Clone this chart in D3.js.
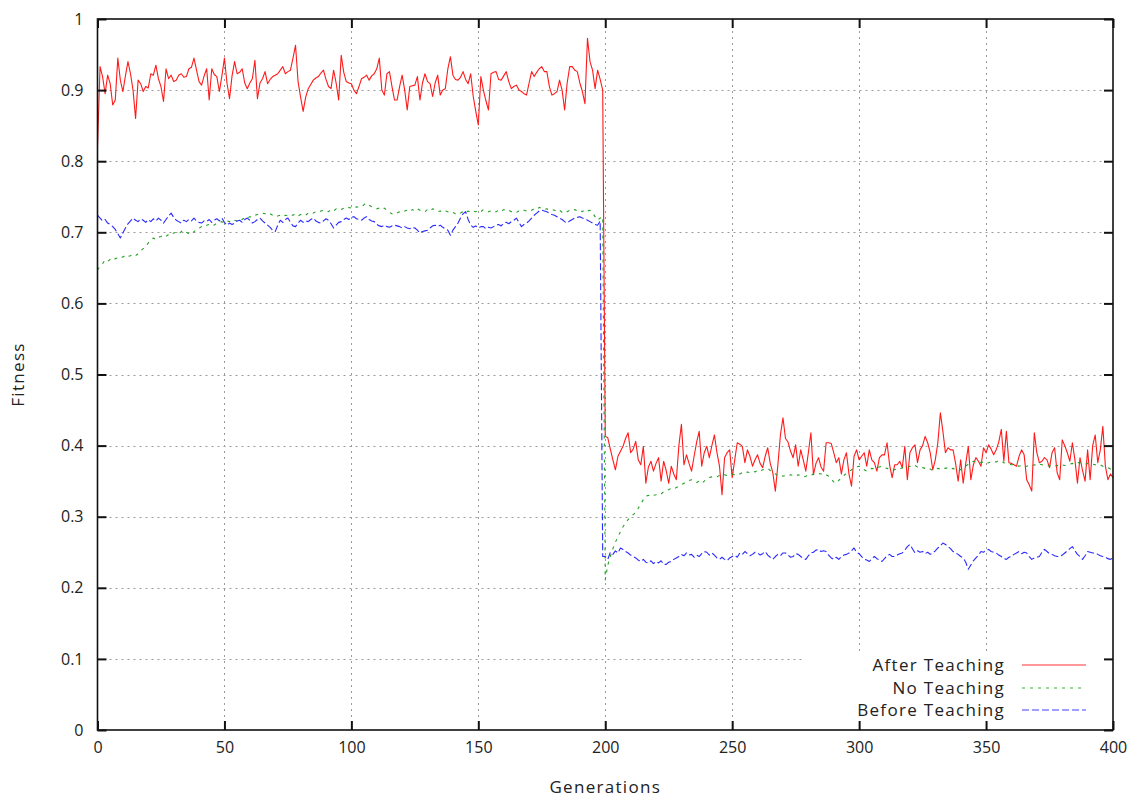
<!DOCTYPE html>
<html>
<head>
<meta charset="utf-8">
<script src="https://cdn.jsdelivr.net/npm/d3@7"></script>
<style>
  html, body { margin: 0; padding: 0; background: #fff; }
  svg { display: block; }
  text { font-family: "Open Sans", "DejaVu Sans", sans-serif; fill: #222; }
</style>
</head>
<body>
<svg id="chart" width="1140" height="801"></svg>
<script>
// ---------------- DATA ----------------
const xTicks = [0, 50, 100, 150, 200, 250, 300, 350, 400];
const yTicks = [0, 0.1, 0.2, 0.3, 0.4, 0.5, 0.6, 0.7, 0.8, 0.9, 1];
const yTickLabels = ["0", "0.1", "0.2", "0.3", "0.4", "0.5", "0.6", "0.7", "0.8", "0.9", "1"];
const seriesNames = ["After Teaching", "No Teaching", "Before Teaching"];
const xLabel = "Generations";
const yLabel = "Fitness";

const afterTeaching = [
0.82,0.933,0.919,0.895,0.921,0.909,0.879,0.886,0.945,0.914,
0.898,0.92,0.94,0.923,0.90,0.86,0.914,0.909,0.898,0.905,
0.903,0.923,0.921,0.935,0.916,0.905,0.884,0.93,0.916,0.921,
0.912,0.914,0.921,0.923,0.918,0.919,0.93,0.932,0.945,0.928,
0.912,0.907,0.92,0.93,0.886,0.93,0.922,0.919,0.898,0.92,
0.945,0.91,0.888,0.92,0.94,0.923,0.925,0.93,0.91,0.902,
0.91,0.916,0.942,0.888,0.91,0.916,0.926,0.909,0.915,0.919,
0.921,0.923,0.928,0.933,0.923,0.926,0.928,0.945,0.963,0.912,
0.89,0.87,0.89,0.902,0.908,0.914,0.917,0.919,0.924,0.928,
0.915,0.905,0.902,0.928,0.91,0.886,0.949,0.925,0.912,0.91,
0.909,0.9,0.895,0.905,0.916,0.918,0.921,0.914,0.92,0.923,
0.93,0.945,0.9,0.893,0.923,0.926,0.905,0.886,0.886,0.905,
0.921,0.9,0.872,0.905,0.906,0.907,0.919,0.886,0.91,0.923,
0.912,0.909,0.891,0.91,0.921,0.893,0.9,0.902,0.93,0.947,
0.921,0.915,0.914,0.918,0.926,0.915,0.909,0.923,0.891,0.87,
0.851,0.919,0.9,0.885,0.872,0.923,0.925,0.926,0.915,0.914,
0.92,0.926,0.912,0.902,0.905,0.907,0.9,0.898,0.895,0.893,
0.91,0.926,0.919,0.925,0.93,0.933,0.926,0.926,0.905,0.893,
0.895,0.898,0.914,0.9,0.872,0.91,0.933,0.933,0.928,0.926,
0.91,0.898,0.881,0.973,0.94,0.928,0.902,0.928,0.915,0.9,
0.413,0.411,0.395,0.38,0.366,0.385,0.392,0.399,0.41,0.418,
0.39,0.395,0.406,0.38,0.373,0.399,0.347,0.37,0.378,0.364,
0.375,0.383,0.35,0.378,0.365,0.347,0.371,0.36,0.352,0.4,
0.43,0.373,0.387,0.375,0.364,0.385,0.405,0.42,0.371,0.39,
0.399,0.383,0.4,0.415,0.39,0.371,0.331,0.383,0.39,0.394,
0.355,0.38,0.404,0.402,0.399,0.376,0.394,0.385,0.371,0.38,
0.387,0.375,0.369,0.385,0.397,0.375,0.362,0.336,0.373,0.415,
0.439,0.41,0.405,0.392,0.383,0.401,0.371,0.394,0.38,0.364,
0.39,0.418,0.359,0.375,0.383,0.37,0.364,0.404,0.404,0.403,
0.39,0.376,0.383,0.36,0.38,0.39,0.36,0.343,0.385,0.394,
0.38,0.385,0.39,0.371,0.394,0.38,0.376,0.364,0.383,0.387,
0.387,0.404,0.373,0.355,0.373,0.373,0.378,0.369,0.399,0.352,
0.39,0.397,0.401,0.376,0.394,0.4,0.413,0.404,0.39,0.366,
0.38,0.404,0.446,0.42,0.39,0.397,0.394,0.394,0.375,0.35,
0.38,0.347,0.375,0.399,0.352,0.373,0.383,0.378,0.371,0.397,
0.39,0.401,0.395,0.387,0.394,0.405,0.423,0.378,0.42,0.376,
0.375,0.373,0.371,0.385,0.394,0.387,0.352,0.345,0.336,0.418,
0.39,0.376,0.378,0.383,0.38,0.369,0.39,0.397,0.362,0.352,
0.408,0.4,0.39,0.378,0.404,0.38,0.347,0.383,0.365,0.35,
0.394,0.352,0.4,0.415,0.376,0.394,0.427,0.371,0.352,0.36,
0.355
];

const noTeaching = [
0.647,0.652,0.656,0.661,0.659,0.662,0.660,0.663,0.664,0.666,
0.665,0.668,0.666,0.667,0.669,0.667,0.670,0.674,0.677,0.680,
0.685,0.689,0.692,0.690,0.693,0.694,0.696,0.694,0.697,0.696,
0.699,0.700,0.698,0.701,0.703,0.700,0.698,0.697,0.701,0.704,
0.706,0.708,0.707,0.710,0.711,0.712,0.710,0.713,0.714,0.715,
0.713,0.716,0.715,0.718,0.717,0.716,0.719,0.718,0.721,0.720,
0.722,0.721,0.724,0.725,0.727,0.727,0.726,0.728,0.726,0.724,
0.725,0.723,0.724,0.722,0.724,0.723,0.725,0.724,0.726,0.723,
0.725,0.726,0.724,0.727,0.728,0.727,0.729,0.728,0.730,0.731,
0.731,0.729,0.732,0.730,0.733,0.731,0.732,0.734,0.733,0.735,
0.734,0.733,0.736,0.735,0.736,0.739,0.741,0.738,0.736,0.735,
0.733,0.734,0.732,0.734,0.731,0.728,0.726,0.725,0.727,0.729,
0.728,0.730,0.731,0.729,0.732,0.730,0.733,0.731,0.731,0.729,
0.732,0.730,0.733,0.731,0.729,0.730,0.728,0.730,0.729,0.727,
0.728,0.726,0.728,0.727,0.729,0.727,0.730,0.728,0.730,0.729,
0.731,0.729,0.732,0.731,0.729,0.730,0.728,0.729,0.731,0.729,
0.732,0.730,0.731,0.729,0.730,0.728,0.730,0.729,0.731,0.730,
0.732,0.731,0.733,0.732,0.735,0.734,0.732,0.733,0.731,0.732,
0.731,0.729,0.731,0.728,0.730,0.729,0.731,0.730,0.732,0.730,
0.731,0.729,0.732,0.730,0.731,0.727,0.722,0.717,0.720,0.722,
0.211,0.232,0.244,0.255,0.264,0.272,0.279,0.286,0.291,0.296,
0.300,0.303,0.306,0.312,0.318,0.324,0.329,0.330,0.328,0.330,
0.331,0.333,0.332,0.335,0.337,0.338,0.340,0.339,0.341,0.343,
0.345,0.347,0.349,0.351,0.352,0.350,0.348,0.350,0.347,0.350,
0.353,0.355,0.356,0.357,0.356,0.358,0.357,0.359,0.358,0.359,
0.360,0.359,0.361,0.360,0.362,0.361,0.363,0.362,0.364,0.363,
0.365,0.364,0.366,0.366,0.368,0.365,0.362,0.360,0.358,0.359,
0.357,0.358,0.357,0.359,0.358,0.357,0.359,0.358,0.356,0.357,
0.359,0.358,0.360,0.359,0.361,0.360,0.361,0.359,0.357,0.353,
0.349,0.347,0.351,0.355,0.358,0.361,0.363,0.366,0.368,0.370,
0.371,0.368,0.366,0.364,0.366,0.368,0.367,0.369,0.370,0.371,
0.369,0.368,0.366,0.367,0.366,0.368,0.367,0.369,0.368,0.369,
0.371,0.370,0.372,0.370,0.371,0.369,0.368,0.366,0.367,0.365,
0.366,0.368,0.367,0.369,0.368,0.369,0.367,0.368,0.366,0.367,
0.366,0.369,0.371,0.374,0.376,0.378,0.377,0.378,0.376,0.377,
0.375,0.376,0.377,0.378,0.377,0.379,0.378,0.376,0.375,0.374,
0.373,0.373,0.372,0.371,0.372,0.370,0.371,0.372,0.371,0.373,
0.372,0.374,0.373,0.372,0.371,0.372,0.370,0.371,0.372,0.371,
0.373,0.372,0.373,0.374,0.375,0.374,0.376,0.376,0.375,0.374,
0.375,0.373,0.374,0.373,0.372,0.373,0.371,0.370,0.369,0.367,
0.366
];

const beforeTeaching = [
0.724,0.720,0.716,0.718,0.713,0.711,0.708,0.704,0.698,0.692,
0.699,0.706,0.712,0.716,0.720,0.717,0.715,0.719,0.717,0.714,
0.718,0.715,0.719,0.716,0.720,0.717,0.713,0.718,0.723,0.727,
0.721,0.717,0.715,0.713,0.717,0.715,0.718,0.716,0.720,0.716,
0.714,0.713,0.716,0.715,0.718,0.714,0.717,0.719,0.716,0.720,
0.714,0.710,0.713,0.711,0.713,0.716,0.717,0.714,0.718,0.720,
0.717,0.713,0.715,0.718,0.720,0.716,0.713,0.710,0.707,0.703,
0.701,0.710,0.717,0.714,0.718,0.720,0.714,0.709,0.708,0.713,
0.717,0.714,0.716,0.715,0.718,0.720,0.716,0.714,0.713,0.716,
0.719,0.717,0.712,0.706,0.710,0.714,0.715,0.718,0.720,0.718,
0.721,0.722,0.719,0.718,0.717,0.720,0.722,0.718,0.716,0.715,
0.711,0.709,0.708,0.710,0.708,0.707,0.709,0.710,0.709,0.708,
0.706,0.708,0.706,0.705,0.707,0.706,0.703,0.699,0.701,0.702,
0.703,0.706,0.709,0.710,0.708,0.710,0.707,0.705,0.703,0.696,
0.703,0.708,0.713,0.720,0.726,0.729,0.718,0.710,0.707,0.709,
0.706,0.708,0.708,0.705,0.707,0.706,0.708,0.710,0.711,0.709,
0.713,0.714,0.712,0.715,0.717,0.720,0.714,0.708,0.711,0.713,
0.716,0.720,0.724,0.727,0.730,0.731,0.730,0.729,0.727,0.725,
0.724,0.722,0.720,0.718,0.715,0.713,0.716,0.718,0.720,0.721,
0.722,0.720,0.719,0.717,0.715,0.713,0.711,0.710,0.716,0.244,
0.244,0.240,0.250,0.247,0.252,0.249,0.256,0.254,0.251,0.249,
0.246,0.244,0.242,0.239,0.237,0.240,0.236,0.235,0.238,0.234,
0.237,0.235,0.238,0.233,0.233,0.236,0.237,0.240,0.242,0.244,
0.247,0.245,0.249,0.246,0.247,0.243,0.246,0.244,0.248,0.251,
0.250,0.246,0.249,0.246,0.242,0.240,0.243,0.240,0.238,0.242,
0.244,0.246,0.243,0.249,0.247,0.251,0.248,0.245,0.247,0.250,
0.249,0.246,0.248,0.251,0.246,0.243,0.240,0.244,0.247,0.245,
0.249,0.249,0.246,0.243,0.244,0.248,0.247,0.244,0.241,0.240,
0.245,0.249,0.250,0.253,0.254,0.251,0.252,0.251,0.246,0.242,
0.240,0.243,0.240,0.244,0.246,0.247,0.249,0.252,0.256,0.250,
0.248,0.244,0.240,0.239,0.237,0.241,0.244,0.241,0.239,0.237,
0.241,0.245,0.247,0.244,0.244,0.246,0.248,0.249,0.253,0.258,
0.261,0.255,0.249,0.252,0.250,0.251,0.248,0.250,0.247,0.249,
0.252,0.256,0.259,0.263,0.261,0.258,0.255,0.251,0.249,0.247,
0.244,0.242,0.236,0.226,0.232,0.238,0.242,0.246,0.251,0.250,
0.253,0.254,0.251,0.250,0.249,0.246,0.244,0.241,0.240,0.243,
0.244,0.247,0.249,0.251,0.248,0.250,0.249,0.244,0.240,0.242,
0.243,0.244,0.250,0.254,0.251,0.248,0.247,0.245,0.244,0.244,
0.246,0.249,0.252,0.255,0.258,0.252,0.247,0.244,0.240,0.245,
0.251,0.250,0.249,0.249,0.247,0.245,0.244,0.243,0.241,0.240,
0.242
];

// generation index for each value
const generations = afterTeaching.map((_, i) => i);

(function draw() {
  const svg = d3.select("#chart");
  const pL = 97.5, pR = 1113, pT = 19, pB = 730;
  const x = d3.scaleLinear().domain([0, 400]).range([pL, pR]);
  const y = d3.scaleLinear().domain([0, 1]).range([pB, pT]);

  svg.append("rect").attr("width", 1140).attr("height", 801).attr("fill", "#fff");

  // grid
  const grid = svg.append("g").attr("stroke", "#9a9a9a").attr("stroke-width", 1)
    .attr("stroke-dasharray", "2,4");
  grid.selectAll("line.v").data(xTicks.slice(1, -1)).join("line").attr("class", "v")
    .attr("x1", d => Math.round(x(d)) + 0.5).attr("x2", d => Math.round(x(d)) + 0.5)
    .attr("y1", y(1)).attr("y2", y(0));
  grid.selectAll("line.h").data(yTicks.slice(1, -1)).join("line").attr("class", "h")
    .attr("y1", d => Math.round(y(d)) + 0.5).attr("y2", d => Math.round(y(d)) + 0.5)
    .attr("x1", x(0)).attr("x2", x(400));

  // legend background (covers grid)
  svg.append("rect").attr("x", 805).attr("y", 652).attr("width", pR - 805 - 1).attr("height", pB - 652 - 1)
    .attr("fill", "#fff");

  // data lines
  const colors = ["#ff1a1a", "#22a022", "#2a2aff"];
  const dashes = [null, "3,5", "7,3"];
  const allSeries = [afterTeaching, noTeaching, beforeTeaching];
  const line = d3.line().x((d, i) => x(generations[i])).y(d => y(d));
  allSeries.forEach((s, k) => {
    svg.append("path").datum(s)
      .attr("fill", "none")
      .attr("stroke", colors[k])
      .attr("stroke-width", 1.1)
      .attr("stroke-dasharray", dashes[k])
      .attr("stroke-linejoin", "round")
      .attr("d", line);
  });

  // axes with inward ticks
  const tickLen = 9;
  const fontSize = 16;
  const wordSize = 17;
  const wordSpacing = "1.3px";
  const axB = svg.append("g").attr("transform", `translate(0,${pB})`)
    .call(d3.axisBottom(x).tickValues(xTicks).tickFormat(d3.format("d")).tickSizeInner(-tickLen).tickSizeOuter(0).tickPadding(12));
  const axL = svg.append("g").attr("transform", `translate(${pL},0)`)
    .call(d3.axisLeft(y).tickValues(yTicks).tickFormat((d, i) => yTickLabels[i]).tickSizeInner(-tickLen).tickSizeOuter(0).tickPadding(14));
  const axT = svg.append("g").attr("transform", `translate(0,${pT})`)
    .call(d3.axisTop(x).tickValues(xTicks).tickFormat("").tickSizeInner(-tickLen).tickSizeOuter(0));
  const axR = svg.append("g").attr("transform", `translate(${pR},0)`)
    .call(d3.axisRight(y).tickValues(yTicks).tickFormat("").tickSizeInner(-tickLen).tickSizeOuter(0));
  [axB, axL, axT, axR].forEach(a => {
    a.select(".domain").remove();
    a.selectAll(".tick line").attr("stroke", "#111").attr("stroke-width", 2);
    a.selectAll(".tick text").attr("font-size", fontSize).attr("fill", "#222")
      .attr("font-family", "'Open Sans', 'DejaVu Sans', sans-serif");
  });

  // border
  svg.append("rect").attr("x", pL).attr("y", pT).attr("width", pR - pL).attr("height", pB - pT)
    .attr("fill", "none").attr("stroke", "#111").attr("stroke-width", 1.6);

  // axis titles
  svg.append("text").attr("x", (pL + pR) / 2).attr("y", 793).attr("text-anchor", "middle")
    .attr("font-size", wordSize).attr("letter-spacing", wordSpacing).text(xLabel);
  svg.append("text").attr("transform", `translate(24,${(pT + pB) / 2}) rotate(-90)`)
    .attr("text-anchor", "middle").attr("font-size", wordSize).attr("letter-spacing", wordSpacing).text(yLabel);

  // legend
  const legendY = [665, 688, 710];
  seriesNames.forEach((name, k) => {
    svg.append("text").attr("x", 1005).attr("y", legendY[k]).attr("dy", "0.35em")
      .attr("text-anchor", "end").attr("font-size", wordSize).attr("letter-spacing", wordSpacing).text(name);
    svg.append("line").attr("x1", 1022).attr("x2", 1086).attr("y1", legendY[k]).attr("y2", legendY[k])
      .attr("stroke", colors[k]).attr("stroke-width", 2.2).attr("stroke-opacity", 0.45)
      .attr("stroke-dasharray", dashes[k]);
  });
})();
</script>
</body>
</html>
